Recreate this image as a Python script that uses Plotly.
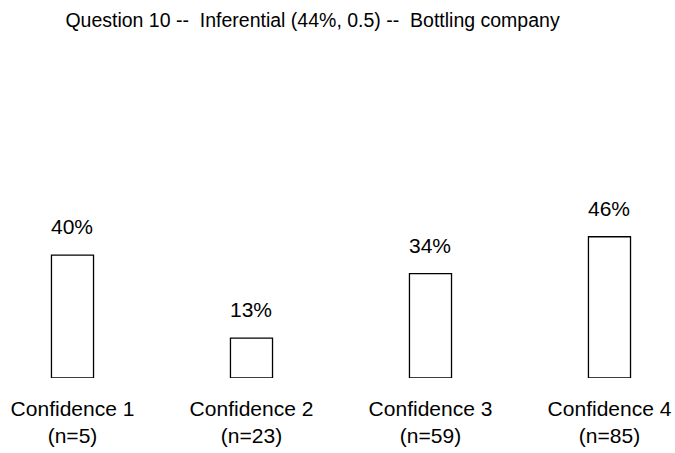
import plotly.graph_objects as go

title = "Question 10 --  Inferential (44%, 0.5) --  Bottling company"
categories = ["Confidence 1", "Confidence 2", "Confidence 3", "Confidence 4"]
counts = [5, 23, 59, 85]
percents = [40, 13, 34, 46]

font_family = "Liberation Sans, Arial, sans-serif"

tick_text = [f"{c}<br>(n={n})" for c, n in zip(categories, counts)]
x_pos = list(range(len(categories)))

fig = go.Figure()
fig.add_trace(go.Bar(
    x=x_pos,
    y=percents,
    width=0.235,
    marker=dict(color="white", line=dict(color="black", width=1.3)),
    hoverinfo="skip",
    showlegend=False,
))

for x, p in zip(x_pos, percents):
    fig.add_annotation(
        x=x, y=p, text=f"{p}%", showarrow=False,
        yanchor="bottom", yshift=15,
        font=dict(size=21, color="black", family=font_family),
    )

fig.update_layout(
    width=675,
    height=453,
    margin=dict(l=0, r=0, t=50, b=75),
    paper_bgcolor="white",
    plot_bgcolor="white",
    font=dict(family=font_family, size=21, color="black"),
    title=dict(
        text=title,
        x=0.463, xanchor="center",
        y=0.956, yanchor="middle",
        xref="paper", yref="container",
        font=dict(size=19.5, color="black", family=font_family),
    ),
    xaxis=dict(
        range=[-0.405, 3.366],
        tickmode="array",
        tickvals=x_pos,
        ticktext=tick_text,
        showgrid=False,
        zeroline=False,
        showline=False,
        ticks="",
        ticklabelstandoff=16,
        ticklabeloverflow="allow",
        tickfont=dict(size=21),
        fixedrange=True,
    ),
    yaxis=dict(
        range=[0, 106.8],
        visible=False,
        showgrid=False,
        zeroline=False,
        fixedrange=True,
    ),
)

# drop the default 8px body margin so the figure fills the window; no modebar
fig.write_html(
    "out.html",
    config={"displayModeBar": False},
    post_script="document.body.style.margin = '0';",
)
